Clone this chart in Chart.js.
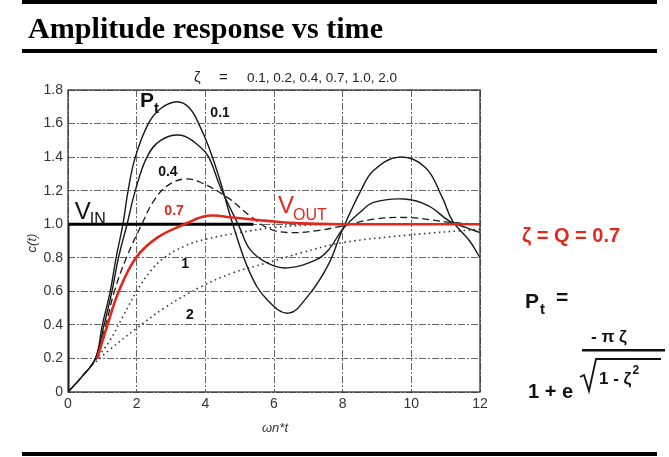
<!DOCTYPE html>
<html>
<head>
<meta charset="utf-8">
<script src="https://cdn.jsdelivr.net/npm/chart.js@4"></script>
<style>
  html, body { margin: 0; padding: 0; background: #fff; }
  #wrap { position: relative; width: 669px; height: 457px; }
</style>
</head>
<body>
<div id="wrap"><canvas id="stepChart" width="669" height="457"></canvas></div>
<script>
// ------------------------------------------
// Step response data
// ------------------------------------------
const xTicks = [0, 2, 4, 6, 8, 10, 12];
const yTicks = [0, 0.2, 0.4, 0.6, 0.8, 1.0, 1.2, 1.4, 1.6, 1.8];
const zetaList = '0.1, 0.2, 0.4, 0.7, 1.0, 2.0';

const t01 = [0, 0.4, 0.8, 1.0, 1.23, 1.4, 1.6, 1.75, 1.96, 2.34, 2.7, 3.18, 3.55, 3.85, 4.1, 4.4, 4.8, 5.3, 5.8, 6.42, 6.98, 7.56, 8.0, 8.53, 8.9, 9.64, 10.4, 10.9, 11.2, 11.7, 12];
const c01 = [0, 0.09, 0.2, 0.4, 0.6, 0.8, 1.0, 1.2, 1.4, 1.6, 1.69, 1.73, 1.69, 1.58, 1.46, 1.28, 1.0, 0.71, 0.55, 0.47, 0.57, 0.75, 0.97, 1.2, 1.32, 1.40, 1.34, 1.16, 1.02, 0.9, 0.8];

const t02 = [0, 0.4, 0.8, 1.05, 1.28, 1.47, 1.72, 1.96, 2.3, 2.7, 3.3, 3.85, 4.1, 4.44, 5.0, 5.3, 5.8, 6.4, 7.25, 7.6, 8.0, 8.5, 8.9, 9.8, 10.5, 11.1, 11.6, 12];
const c02 = [0, 0.09, 0.2, 0.4, 0.6, 0.8, 1.0, 1.2, 1.4, 1.5, 1.53, 1.46, 1.4, 1.22, 0.98, 0.85, 0.77, 0.74, 0.79, 0.85, 0.97, 1.07, 1.13, 1.15, 1.11, 1.02, 0.98, 0.95];

const t04 = [0, 0.4, 0.8, 1.1, 1.35, 1.7, 2.15, 2.5, 2.9, 3.4, 3.85, 4.64, 5.3, 5.9, 6.5, 7.2, 8.0, 8.9, 9.9, 11.2, 12];
const c04 = [0, 0.09, 0.2, 0.4, 0.6, 0.8, 1.0, 1.14, 1.23, 1.27, 1.25, 1.16, 1.05, 0.97, 0.95, 0.96, 0.99, 1.03, 1.04, 1.01, 1.0];

const t07 = [0.85, 1.15, 1.48, 1.98, 2.6, 3.4, 4.06, 4.8, 5.8, 6.8, 8, 12];
const c07 = [0.2, 0.4, 0.6, 0.8, 0.92, 1.0, 1.05, 1.04, 1.02, 1.005, 1.0, 1.0];

const t10 = [0.8, 1.2, 1.6, 2.0, 2.4, 2.8, 3.4, 4.0, 5.0, 6.0, 7.0, 8.0, 12];
const c10 = [0.19, 0.3, 0.45, 0.6, 0.72, 0.8, 0.87, 0.91, 0.95, 0.98, 0.995, 1.0, 1.0];

const t20 = [0.7, 1.2, 2.0, 2.8, 3.9, 4.8, 5.8, 6.8, 8.0, 9.9, 12];
const c20 = [0.16, 0.25, 0.38, 0.5, 0.63, 0.71, 0.77, 0.83, 0.89, 0.935, 0.97];

const tIn = [0, 0, 5.4];
const cIn = [0, 1, 1];

// curve labels inside the plot (data units)
const curveLabels = [
    { text: '0.1', t: 4.43, c: 1.66, color: '#111' },
    { text: '0.4', t: 2.91, c: 1.31, color: '#111' },
    { text: '0.7', t: 3.09, c: 1.08, color: '#e0291c' },
    { text: '1',   t: 3.41, c: 0.76, color: '#111' },
    { text: '2',   t: 3.55, c: 0.46, color: '#111' }
];

const RED = '#e0291c';
const SANS = '"Liberation Sans", Arial, sans-serif';

function pts(ts, cs) {
    return ts.map((t, i) => ({ x: t, y: cs[i] }));
}

function curve(ts, cs, extra) {
    return Object.assign({
        data: pts(ts, cs),
        borderColor: '#1a1a1a',
        borderWidth: 1.4,
        pointRadius: 0,
        fill: false,
        tension: 0.4
    }, extra);
}

// Extra drawing: box, labels, title block, formula
const decorPlugin = {
    id: 'decor',
    afterDraw(chart) {
        const ctx = chart.ctx;
        const xs = chart.scales.x, ys = chart.scales.y;
        const a = chart.chartArea;
        const px = t => xs.getPixelForValue(t);
        const py = c => ys.getPixelForValue(c);

        ctx.save();
        // plot box
        ctx.strokeStyle = '#333';
        ctx.lineWidth = 1.3;
        ctx.strokeRect(a.left, a.top, a.right - a.left, a.bottom - a.top);

        // curve labels
        ctx.font = 'bold 14px ' + SANS;
        ctx.textAlign = 'center';
        ctx.textBaseline = 'middle';
        curveLabels.forEach(l => {
            ctx.fillStyle = l.color;
            ctx.fillText(l.text, px(l.t), py(l.c));
        });

        // P_t
        ctx.textAlign = 'left';
        ctx.textBaseline = 'alphabetic';
        ctx.fillStyle = '#111';
        ctx.font = 'bold 21px ' + SANS;
        ctx.fillText('P', px(2.1), py(1.70));
        ctx.font = 'bold 15px ' + SANS;
        ctx.fillText('t', px(2.1) + 14, py(1.70) + 6);

        // V_IN
        ctx.font = '24px ' + SANS;
        ctx.fillText('V', px(0.2), py(1.03));
        ctx.font = '16px ' + SANS;
        ctx.fillText('IN', px(0.2) + 15, py(1.03) + 5);

        // V_OUT
        ctx.fillStyle = RED;
        ctx.font = '24px ' + SANS;
        ctx.fillText('V', px(6.12), py(1.067));
        ctx.font = '16px ' + SANS;
        ctx.fillText('OUT', px(6.12) + 15, py(1.067) + 7);

        // axis titles
        ctx.fillStyle = '#333';
        ctx.font = 'italic 13px ' + SANS;
        ctx.textAlign = 'center';
        ctx.fillText('ωn*t', (a.left + a.right) / 2 + 1, 432);
        ctx.save();
        ctx.translate(32, 243);
        ctx.rotate(-Math.PI / 2);
        ctx.fillText('c(t)', 0, 4);
        ctx.restore();

        // zeta list above plot
        ctx.fillStyle = '#222';
        ctx.textAlign = 'left';
        ctx.font = '15px ' + SANS;
        ctx.fillText('ζ', 194, 82);
        ctx.fillText('=', 219, 82);
        ctx.font = '13.5px ' + SANS;
        ctx.fillText(zetaList, 247, 82);

        // title block
        ctx.fillStyle = '#000';
        ctx.fillRect(22, 0, 635, 4);
        ctx.fillRect(22, 49, 635, 4);
        ctx.fillRect(22, 452, 635, 4);
        ctx.font = 'bold 29px "Liberation Serif", "Times New Roman", serif';
        const title = 'Amplitude response vs time';
        const w = ctx.measureText(title).width;
        ctx.save();
        ctx.translate(28, 38);
        ctx.scale(355 / w, 1);
        ctx.fillText(title, 0, 0);
        ctx.restore();

        // right-hand notes
        ctx.fillStyle = RED;
        ctx.font = 'bold 20px ' + SANS;
        ctx.fillText('ζ = Q = 0.7', 522, 242);

        ctx.fillStyle = '#111';
        ctx.font = 'bold 21px ' + SANS;
        ctx.fillText('P', 525, 308);
        ctx.fillText('=', 556, 304);
        ctx.font = 'bold 15px ' + SANS;
        ctx.fillText('t', 540, 314);

        ctx.font = 'bold 17px ' + SANS;
        ctx.fillText('- π ζ', 591, 342);
        ctx.fillRect(582, 349, 83, 2.5);

        ctx.strokeStyle = '#111';
        ctx.lineWidth = 1.8;
        ctx.beginPath();
        ctx.moveTo(580, 377);
        ctx.lineTo(584, 375);
        ctx.lineTo(589, 391);
        ctx.lineTo(596, 359);
        ctx.lineTo(661, 359);
        ctx.stroke();

        ctx.font = 'bold 17px ' + SANS;
        const rad = '1 - ζ';
        ctx.fillText(rad, 599, 384);
        const rw = ctx.measureText(rad).width;
        ctx.font = 'bold 12px ' + SANS;
        ctx.fillText('2', 599 + rw + 1, 374);
        ctx.font = 'bold 20px ' + SANS;
        ctx.fillText('1 + e', 528, 398);

        ctx.restore();
    }
};

new Chart(document.getElementById('stepChart'), {
    type: 'line',
    data: {
        datasets: [
            curve(t07, c07, { borderColor: RED, borderWidth: 2.6 }),
            curve(t01, c01, {}),
            curve(t02, c02, {}),
            curve(t04, c04, { borderDash: [7, 4], borderWidth: 1.3 }),
            curve(t10, c10, { borderDash: [1.5, 3.5], borderWidth: 1.6, borderColor: '#333' }),
            curve(t20, c20, { borderDash: [1.5, 3.5], borderWidth: 1.6, borderColor: '#333' }),
            curve(tIn, cIn, { borderWidth: 3, borderColor: '#000', tension: 0 })
        ]
    },
    options: {
        responsive: false,
        animation: false,
        layout: { padding: { left: 0, top: 90, right: 189, bottom: 0 } },
        plugins: {
            legend: { display: false },
            tooltip: { enabled: false }
        },
        scales: {
            x: {
                type: 'linear',
                min: 0,
                max: 12,
                afterFit(scale) { scale.height = 65; },
                afterBuildTicks(scale) { scale.ticks = xTicks.map(v => ({ value: v })); },
                ticks: {
                    color: '#333',
                    font: { size: 14, family: SANS },
                    padding: 4,
                    maxRotation: 0
                },
                grid: { color: '#666', lineWidth: 1, drawTicks: false },
                border: { display: false, dash: [7, 2, 2, 2] }
            },
            y: {
                min: 0,
                max: 1.8,
                afterFit(scale) { scale.width = 68; },
                afterBuildTicks(scale) { scale.ticks = yTicks.map(v => ({ value: v })); },
                ticks: {
                    color: '#333',
                    font: { size: 14, family: SANS },
                    padding: 5,
                    callback: v => v === 0 ? '0' : v.toFixed(1)
                },
                grid: { color: '#666', lineWidth: 1, drawTicks: false },
                border: { display: false, dash: [7, 2, 2, 2] }
            }
        }
    },
    plugins: [decorPlugin]
});
</script>
</body>
</html>
